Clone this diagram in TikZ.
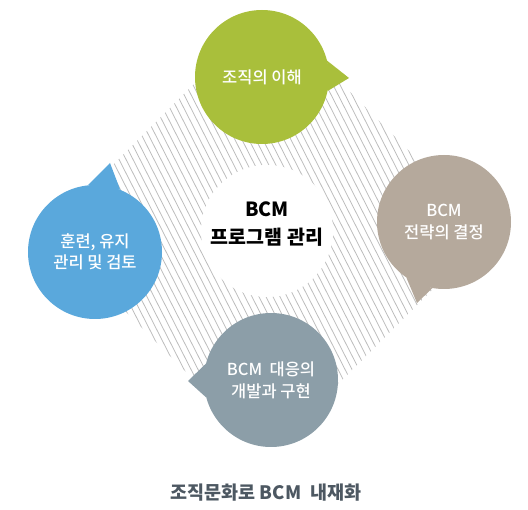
\documentclass[tikz,border=0pt]{standalone}
\usepackage{fontspec}
\newfontfamily\kr{Noto Sans CJK KR}
\newfontfamily\krm{Noto Sans CJK KR Medium}
\usetikzlibrary{calc}
\definecolor{cgreen}{HTML}{A9BF3B}
\definecolor{ctan}{HTML}{B5A99C}
\definecolor{cblue}{HTML}{5AA8DC}
\definecolor{cgray}{HTML}{8C9EA8}
\definecolor{chatch}{HTML}{BDBDBD}
\definecolor{ctitle}{HTML}{4D5862}
\begin{document}
\begin{tikzpicture}[x=1pt,y=1pt,
  bubble/.style={circle, minimum size=134pt, inner sep=0pt, text=white,
    font=\krm\fontsize{16.5}{22}\selectfont, align=center},
  hatchline/.style={chatch, line width=0.8pt}]
\useasboundingbox (0,0) rectangle (528,-510);
\coordinate (c) at (268,-232);
% hatched diamond
\begin{scope}
\clip[rounded corners=40pt] ($(c)+(111,111)$) -- ($(c)+(222,0)$) -- ($(c)+(0,-222)$)
  -- ($(c)+(-222,0)$) -- ($(c)+(0,222)$) -- cycle;
\foreach \i in {-420,-413,...,420}
  \draw[hatchline] ($(c)+(\i,0)+(117:260)$) -- ($(c)+(\i,0)+(-63:260)$);
\end{scope}
% white centre
\node[circle, fill=white, minimum size=132pt, inner sep=0pt] (hole) at (267,-231) {};
\node[font=\kr\bfseries\fontsize{19.5}{28}\selectfont, align=center, text=black] (core) at (267,-224) {BCM\\프로그램 관리};
% green bubble
\node[bubble, fill=cgreen] (g) at (262,-77) {조직의 이해};
\coordinate (gt) at (349,-78);
\fill[cgreen] (g.14) -- (gt) -- (g.-12) -- cycle;
% tan bubble
\node[bubble, fill=ctan] (t) at (444,-222) {BCM\\전략의 결정};
\coordinate (tt) at (417,-303);
\fill[ctan] (t.-124) -- (tt) -- (t.-100) -- cycle;
% blue bubble
\node[bubble, fill=cblue, font=\krm\fontsize{16.5}{21}\selectfont] (b) at (95,-252) {훈련, 유지\\관리 및 검토};
\coordinate (bt) at (110,-163);
\fill[cblue] (b.96) -- (bt) -- (b.68) -- cycle;
% gray bubble
\node[bubble, fill=cgray] (y) at (271,-380) {BCM\hspace{0.45em}대응의\\개발과 구현};
\coordinate (yt) at (188,-381);
\fill[cgray] (y.166) -- (yt) -- (y.195) -- cycle;
% title
\node[font=\kr\bfseries\fontsize{18.5}{22}\selectfont, text=ctitle] (title) at (266,-493) {조직문화로 BCM\hspace{0.5em}내재화};
\end{tikzpicture}
\end{document}
